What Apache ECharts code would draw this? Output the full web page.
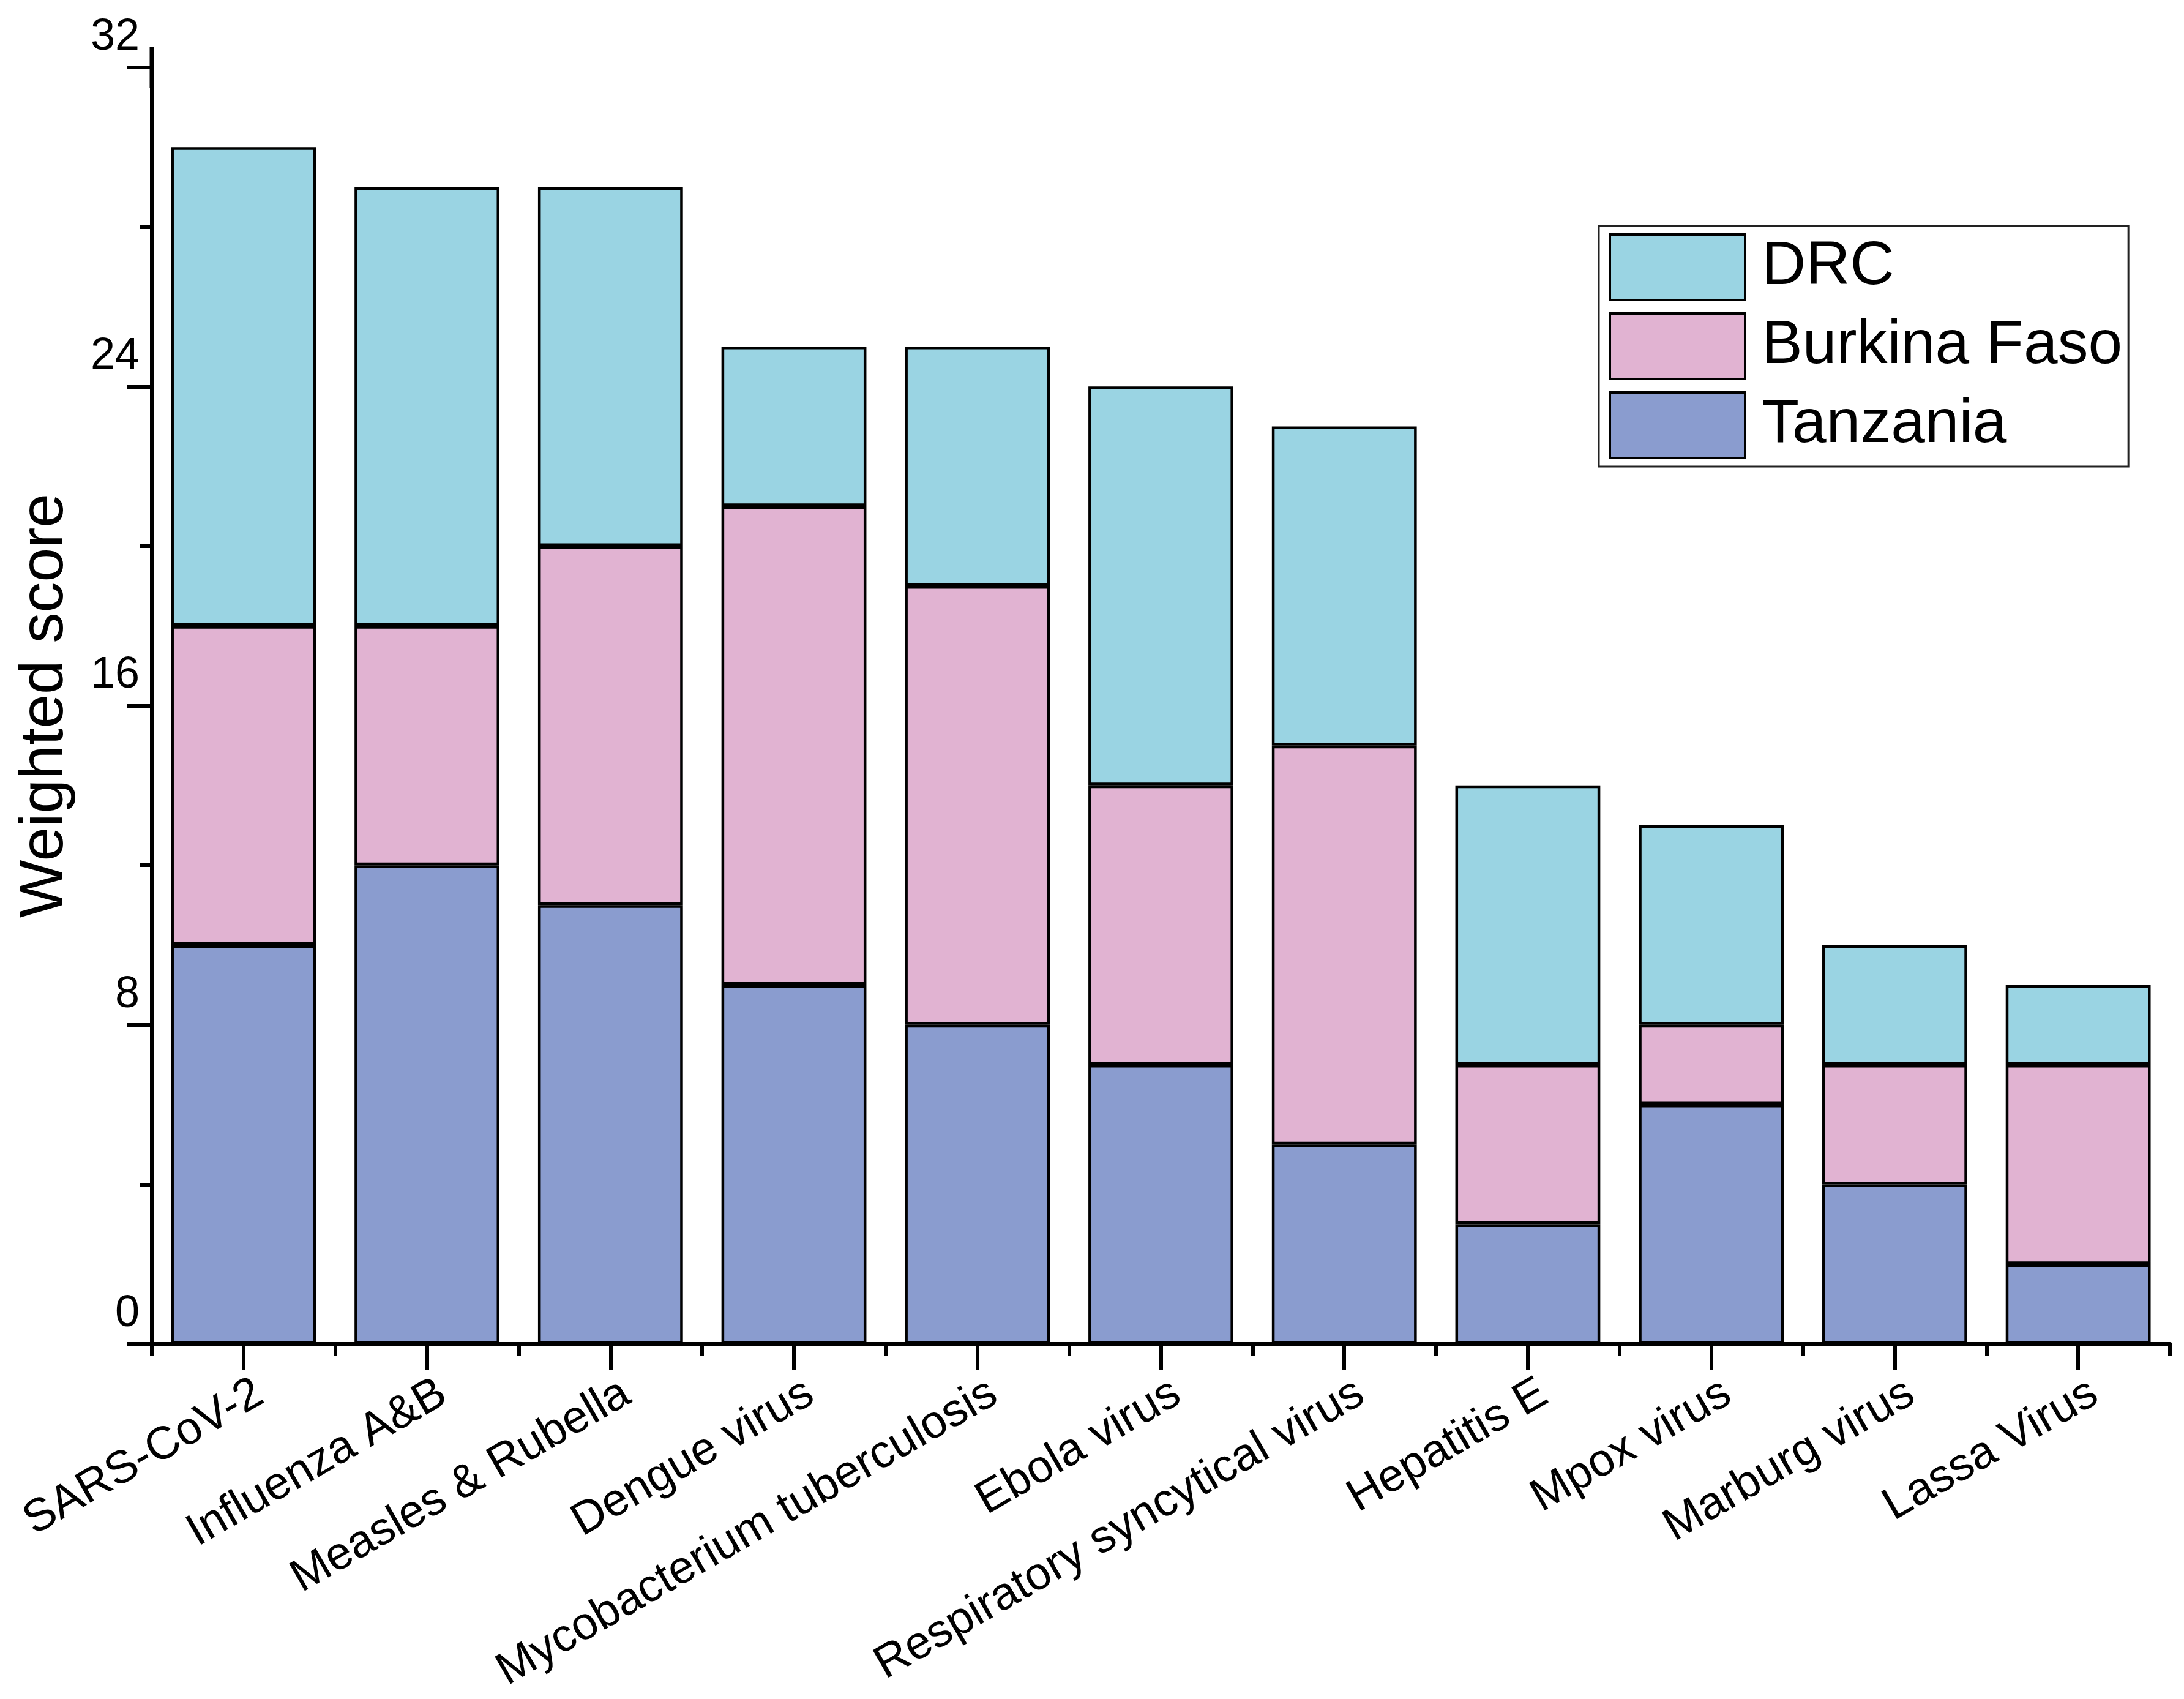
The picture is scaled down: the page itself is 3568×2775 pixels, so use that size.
<!DOCTYPE html>
<html>
<head>
<meta charset="utf-8">
<script src="https://cdn.jsdelivr.net/npm/echarts@6/dist/echarts.min.js"></script>
<style>
html,body{margin:0;padding:0;background:#fff;}
#chart{width:3568px;height:2775px;}
</style>
</head>
<body>
<div id="chart"></div>
<script>
const categories = ['SARS-CoV-2','Influenza A&B','Measles & Rubella','Dengue virus','Mycobacterium tuberculosis','Ebola virus','Respiratory syncytical virus','Hepatitis E','Mpox virus','Marburg virus','Lassa Virus'];
const tanzania    = [10, 12, 11, 9, 8, 7, 5, 3, 6, 4, 2];
const burkinaFaso = [8, 6, 9, 12, 11, 7, 10, 4, 2, 3, 5];
const drc         = [12, 11, 9, 4, 6, 10, 8, 7, 5, 3, 2];
const yTicks = { min: 0, max: 32, interval: 8 };

const FONT = 'Liberation Sans, Arial, Helvetica, sans-serif';
const chart = echarts.init(document.getElementById('chart'), null, {renderer: 'canvas'});

function barSeries(name, data, color) {
  return {
    name: name, type: 'bar', stack: 'total', data: data,
    barWidth: '79%',
    itemStyle: { color: color, borderColor: '#000', borderWidth: 4.5 },
    emphasis: { disabled: true }
  };
}

chart.setOption({
  backgroundColor: '#fff',
  animation: false,
  textStyle: { fontFamily: FONT, color: '#000' },
  grid: { left: 248, right: 23, top: 110, bottom: 580, containLabel: false },
  legend: {
    data: ['DRC', 'Burkina Faso', 'Tanzania'],
    orient: 'vertical',
    left: 2612, top: 369,
    itemWidth: 221, itemHeight: 107, itemGap: 18,
    padding: [12, 10, 12, 16],
    borderColor: '#222', borderWidth: 3,
    icon: 'rect',
    selectedMode: false,
    itemStyle: { borderColor: '#000', borderWidth: 4 },
    textStyle: { fontSize: 100, color: '#000', fontFamily: FONT, padding: [0, 0, 0, 22] }
  },
  xAxis: [{
    type: 'category',
    data: categories,
    position: 'bottom',
    axisLine: { show: true, lineStyle: { color: '#000', width: 7 } },
    axisTick: { show: true, alignWithLabel: true, length: 42, lineStyle: { color: '#000', width: 6 } },
    axisLabel: {
      interval: 0, rotate: 30, fontSize: 75, color: '#000', fontFamily: FONT,
      margin: 30, verticalAlign: 'top', lineHeight: 82, padding: [12, 0, 0, 0]
    },
    splitLine: { show: false }
  }, {
    type: 'category',
    data: categories,
    position: 'bottom',
    axisLine: { show: false },
    axisTick: { show: true, alignWithLabel: false, length: 20, lineStyle: { color: '#000', width: 6 } },
    axisLabel: { show: false },
    splitLine: { show: false }
  }],
  yAxis: {
    type: 'value',
    min: yTicks.min, max: yTicks.max, interval: yTicks.interval,
    name: 'Weighted score',
    nameLocation: 'middle',
    nameGap: 124,
    nameTextStyle: { fontSize: 100, color: '#000', fontFamily: FONT },
    axisLine: { show: true, lineStyle: { color: '#000', width: 7 }, symbol: ['none', 'rect'], symbolSize: [7, 66] },
    axisTick: { show: true, length: 41, lineStyle: { color: '#000', width: 6 } },
    minorTick: { show: true, splitNumber: 2, length: 20, lineStyle: { color: '#000', width: 6 } },
    axisLabel: {
      fontSize: 72, color: '#000', fontFamily: FONT, margin: 20,
      verticalAlign: 'bottom', lineHeight: 72, padding: [0, 0, 13, 0]
    },
    splitLine: { show: false },
    minorSplitLine: { show: false }
  },
  series: [
    barSeries('Tanzania', tanzania, '#8A9CCF'),
    barSeries('Burkina Faso', burkinaFaso, '#E1B3D2'),
    barSeries('DRC', drc, '#9AD4E3')
  ]
});
</script>
</body>
</html>
